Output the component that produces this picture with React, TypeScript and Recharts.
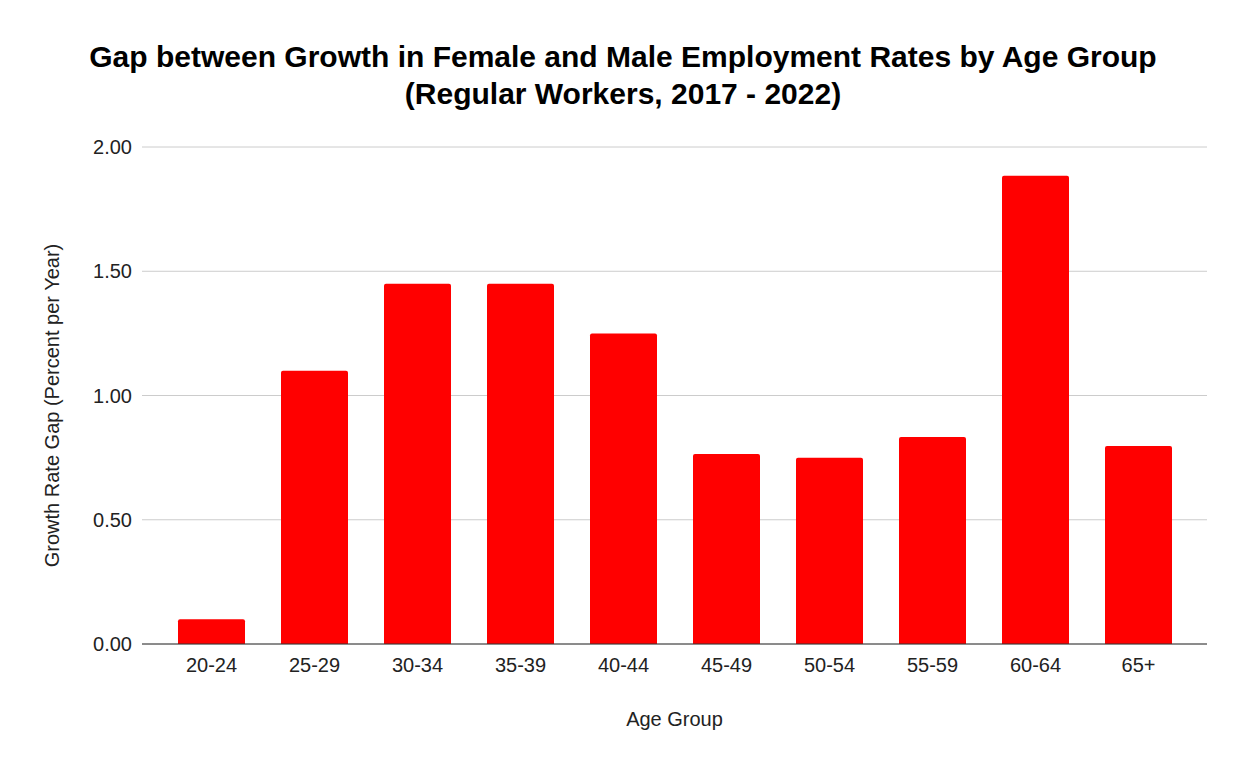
import React from 'react'
import { Bar, BarChart, CartesianGrid, Label, XAxis, YAxis } from 'recharts'

const ageGroups = ['20-24', '25-29', '30-34', '35-39', '40-44', '45-49', '50-54', '55-59', '60-64', '65+']
const gapValues = [0.1, 1.1, 1.45, 1.45, 1.25, 0.765, 0.75, 0.833, 1.884, 0.797]
const yTicks = [0, 0.5, 1, 1.5, 2]

const titleLines = [
    'Gap between Growth in Female and Male Employment Rates by Age Group',
    '(Regular Workers, 2017 - 2022)',
]

const FONT = '"Liberation Sans", Arial, sans-serif'

const data = ageGroups.map((g, i) => ({ group: g, gap: gapValues[i] }))

const YLabel = (props: any) => {
    const vb = props.viewBox || { x: 0, y: 0, height: 0 }
    const cx = vb.x + 52
    const cy = vb.y + vb.height / 2 + 10
    return (
        <text
            x={cx}
            y={cy}
            transform={`rotate(-90, ${cx}, ${cy})`}
            textAnchor="middle"
            dominantBaseline="central"
            fontSize={20}
            fontFamily={FONT}
            fill="#222"
        >
            Growth Rate Gap (Percent per Year)
        </text>
    )
}

const XLabel = (props: any) => {
    const vb = props.viewBox || { x: 0, y: 0, width: 0 }
    return (
        <text
            x={vb.x + vb.width / 2}
            y={719}
            textAnchor="middle"
            dominantBaseline="central"
            fontSize={20}
            fontFamily={FONT}
            fill="#222"
        >
            Age Group
        </text>
    )
}

export default function App() {
    return (
        <div style={{ position: 'absolute', left: 0, top: 0, width: 1246, height: 771, background: '#fff', fontFamily: FONT }}>
            <div
                style={{
                    position: 'absolute',
                    top: 38,
                    left: 0,
                    width: 1246,
                    textAlign: 'center',
                    fontSize: 30,
                    fontWeight: 'bold',
                    lineHeight: '37px',
                    color: '#000',
                }}
            >
                {titleLines.map((t) => (
                    <div key={t}>{t}</div>
                ))}
            </div>
            <BarChart
                width={1246}
                height={771}
                data={data}
                margin={{ top: 147, right: 39, left: 0, bottom: 0 }}
            >
                <CartesianGrid vertical={false} stroke="#cccccc" />
                <XAxis
                    dataKey="group"
                    height={127}
                    padding={{ left: 18, right: 17 }}
                    tickLine={false}
                    tickMargin={8}
                    stroke="#333333"
                    tick={{ fontSize: 20, fill: '#222', fontFamily: FONT }}
                >
                    <Label content={XLabel} />
                </XAxis>
                <YAxis
                    width={142}
                    domain={[0, 2]}
                    ticks={yTicks}
                    axisLine={false}
                    tickLine={false}
                    tickMargin={4}
                    tickFormatter={(v: number) => v.toFixed(2)}
                    tick={{ fontSize: 20, fill: '#222', fontFamily: FONT }}
                >
                    <Label content={YLabel} />
                </YAxis>
                <Bar dataKey="gap" fill="#ff0000" barSize={67} radius={[2, 2, 0, 0]} isAnimationActive={false} />
            </BarChart>
        </div>
    )
}
